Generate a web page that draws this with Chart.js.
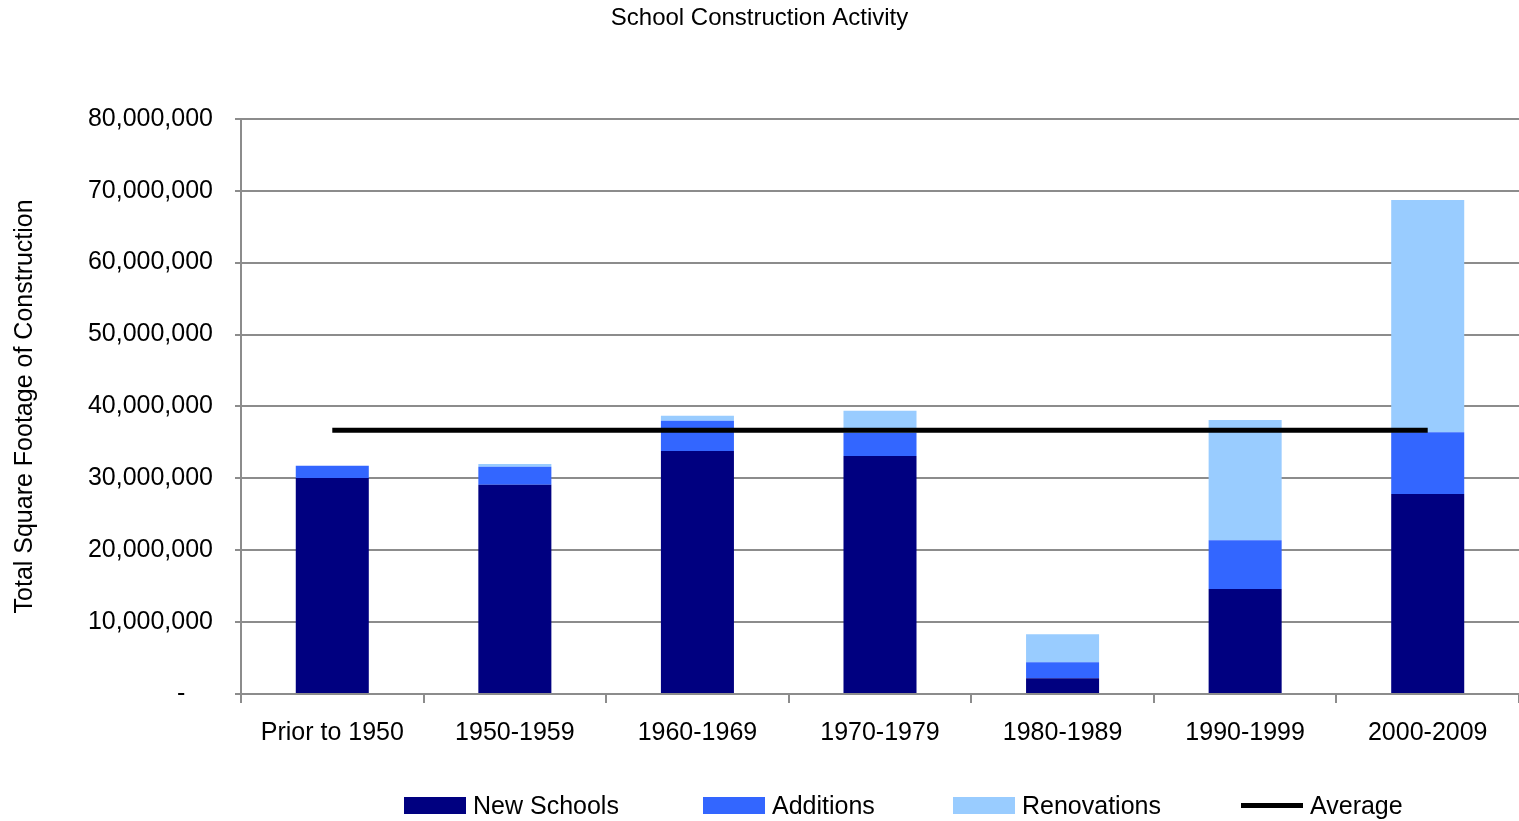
<!DOCTYPE html>
<html>
<head>
<meta charset="utf-8">
<title>School Construction Activity</title>
<script src="https://cdn.jsdelivr.net/npm/chart.js@4.4.1/dist/chart.umd.min.js"></script>
<style>
    body { margin: 0; background: #fff; }
    #wrap { position: relative; width: 1519px; height: 821px; }
    #legend {
        position: absolute; left: 0; top: 791px; width: 1519px; height: 28px;
        font-family: "Liberation Sans", Arial, sans-serif; font-size: 25px; color: #000;
    }
    .item { position: absolute; top: 0; display: flex; align-items: center; gap: 7px; white-space: nowrap; height: 28px; }
    .swatch { width: 62px; height: 17px; }
    .swatch.line { height: 5px; }
</style>
</head>
<body>
<div id="wrap">
    <canvas id="chart"></canvas>
    <div id="legend"></div>
</div>
<script>
const categories = ['Prior to 1950', '1950-1959', '1960-1969', '1970-1979', '1980-1989', '1990-1999', '2000-2009'];
const newSchools = [30050000, 29100000, 33800000, 33100000, 2200000, 14600000, 27800000];
const additions = [1700000, 2500000, 4200000, 3200000, 2200000, 6800000, 8600000];
const renovations = [0, 400000, 700000, 3100000, 3900000, 16700000, 32300000];
const average = [36700000, 36700000, 36700000, 36700000, 36700000, 36700000, 36700000];
const yTicks = [0, 10000000, 20000000, 30000000, 40000000, 50000000, 60000000, 70000000, 80000000];

const font = '"Liberation Sans", Arial, sans-serif';
const gridColor = '#8c8c8c';

const series = [
    { label: 'New Schools', data: newSchools, color: '#000080' },
    { label: 'Additions', data: additions, color: '#3366ff' },
    { label: 'Renovations', data: renovations, color: '#99ccff' }
];
// left edge of each legend entry
const legendX = [404, 703, 953, 1241];

const datasets = series.map(s => ({
    type: 'bar',
    label: s.label,
    data: s.data,
    backgroundColor: s.color,
    barPercentage: 0.4,
    categoryPercentage: 1,
    order: 1
}));
datasets.push({
    type: 'line',
    label: 'Average',
    data: average,
    borderColor: '#000',
    borderWidth: 5,
    pointRadius: 0,
    stack: 'avg',
    order: 0
});

new Chart(document.getElementById('chart'), {
    data: { labels: categories, datasets: datasets },
    options: {
        responsive: true,
        maintainAspectRatio: false,
        animation: false,
        layout: { padding: 0 },
        plugins: {
            legend: { display: false },
            tooltip: { enabled: false },
            title: {
                display: true,
                text: 'School Construction Activity',
                color: '#000',
                font: { family: font, size: 24, weight: 'normal' },
                padding: { top: 4, bottom: 86 }
            }
        },
        scales: {
            x: {
                stacked: true,
                grid: { offset: true, drawOnChartArea: false, tickLength: 9, color: gridColor, lineWidth: 2 },
                border: { color: gridColor, width: 2 },
                ticks: { color: '#000', font: { family: font, size: 25 }, padding: 15, maxRotation: 0 },
                afterFit: scale => { scale.height = 127; }
            },
            y: {
                stacked: true,
                min: 0,
                max: 80000000,
                afterBuildTicks: scale => { scale.ticks = yTicks.map(v => ({ value: v })); },
                grid: { color: gridColor, lineWidth: 2, tickLength: 6 },
                border: { color: gridColor, width: 2 },
                ticks: {
                    color: '#000',
                    font: { family: font, size: 25 },
                    padding: 22,
                    callback: v => v === 0 ? '-    ' : v.toLocaleString('en-US')
                },
                title: {
                    display: true,
                    text: 'Total Square Footage of Construction',
                    color: '#000',
                    font: { family: font, size: 25 },
                    padding: { top: 10, bottom: 0 }
                },
                afterFit: scale => { scale.width = 241; }
            }
        }
    }
});

// legend built from the same series
const legend = document.getElementById('legend');
const entries = series.map(s => ({ label: s.label, color: s.color, line: false }));
entries.push({ label: 'Average', color: '#000', line: true });
entries.forEach((e, i) => {
    legend.insertAdjacentHTML('beforeend',
        `<div class="item" style="left:${legendX[i]}px"><div class="swatch${e.line ? ' line' : ''}" style="background:${e.color}"></div><span>${e.label}</span></div>`);
});
</script>
</body>
</html>
